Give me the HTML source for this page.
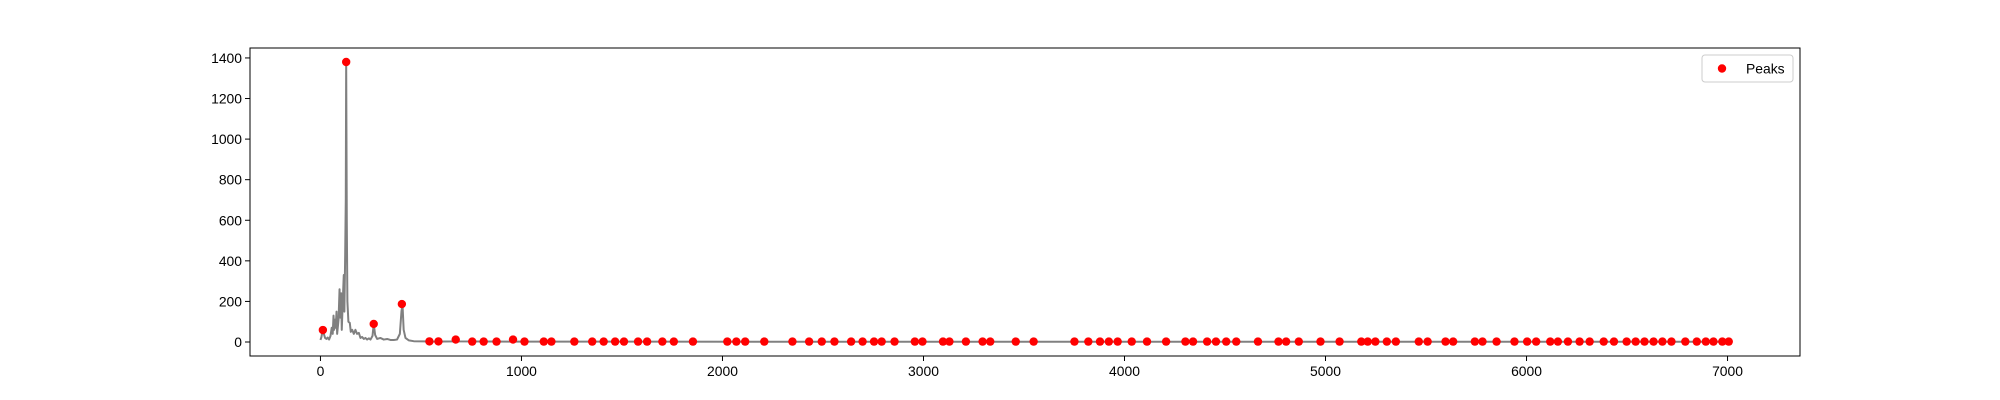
<!DOCTYPE html>
<html><head><meta charset="utf-8"><style>
html,body{margin:0;padding:0;background:#fff;}
svg{display:block;font-family:"Liberation Sans","DejaVu Sans",sans-serif;}
</style></head><body>
<svg id="chart" width="2000" height="400" xmlns="http://www.w3.org/2000/svg">
<rect width="2000" height="400" fill="#fff"/>
<g id="plot"></g>
<g id="axes"></g>
<g>
<rect x="1702" y="55" width="91" height="27" rx="3" fill="#fff" fill-opacity="0.8" stroke="#ccc" stroke-width="1"/>
<circle cx="1722" cy="68.5" r="4.2" fill="#ff0000"/>
<text x="1746" y="73.5" font-size="13.9" fill="#000">Peaks</text>
</g>
</svg>
<script>
const lineX = [0,5,10,17,23,30,36,43,50,56,61,65,68,73,76,80,83,90,95,98,103,106,111,116,119,123,126,128,131,134,139,146,151,158,166,174,182,191,199,207,216,224,232,241,249,259,265,272,282,298,315,332,348,365,381,395,403,408,414,423,440,464,514,580,660,673,690,940,958,975,1500,2500,3500,4500,5500,6500,7010];
const lineY = [10,25,55,40,20,15,22,12,30,70,40,130,60,110,70,150,40,110,260,120,240,60,200,330,150,430,700,1380,600,200,100,94,50,60,40,60,40,45,20,25,15,20,12,18,12,30,89,35,15,20,12,15,10,10,12,40,150,187,60,20,8,4,3,2,3,12,3,2,12,2,2,1,1,1,1,1,1];
const peakX = [12,128,265,405,542,587,673,755,812,876,958,1015,1111,1149,1263,1352,1409,1466,1510,1580,1625,1701,1758,1853,2024,2069,2113,2208,2348,2431,2494,2557,2640,2697,2754,2792,2856,2957,2995,3097,3129,3211,3294,3332,3459,3548,3751,3820,3878,3922,3966,4036,4112,4207,4303,4341,4411,4455,4506,4556,4664,4766,4804,4867,4975,5070,5178,5210,5248,5305,5350,5464,5508,5597,5635,5743,5781,5851,5940,6003,6048,6118,6156,6206,6264,6314,6384,6435,6498,6543,6587,6632,6676,6721,6790,6847,6892,6930,6974,7006];
const peakY = [59,1380,89,187,3,3,12,2,2,2,12,2,2,2,2,2,2,2,2,2,2,2,2,2,2,2,2,2,2,2,2,2,2,2,2,2,2,2,2,2,2,2,2,2,2,2,2,2,2,2,2,2,2,2,2,2,2,2,2,2,2,2,2,2,2,2,2,2,2,2,2,2,2,2,2,2,2,2,2,2,2,2,2,2,2,2,2,2,2,2,2,2,2,2,2,2,2,2,2,2];
const xTicks = [0,1000,2000,3000,4000,5000,6000,7000];
const yTicks = [0,200,400,600,800,1000,1200,1400];

const NS="http://www.w3.org/2000/svg";
const L=250,R=1800,T=48,B=356;
const xMin=-350.5,xMax=7360.5,yMin=-69,yMax=1449;
function sx(v){return L+(v-xMin)/(xMax-xMin)*(R-L);}
function sy(v){return B-(v-yMin)/(yMax-yMin)*(B-T);}
function mk(tag,attrs,parent){const e=document.createElementNS(NS,tag);for(const k in attrs)e.setAttribute(k,attrs[k]);parent.appendChild(e);return e;}
const plot=document.getElementById('plot');
const axes=document.getElementById('axes');

let d='';
for(let i=0;i<lineX.length;i++){d+=(i?'L':'M')+sx(lineX[i]).toFixed(2)+','+sy(lineY[i]).toFixed(2);}
const path=mk('path',{d:d,fill:'none',stroke:'#808080','stroke-width':2,'stroke-linejoin':'round'},plot);



for(let i=0;i<peakX.length;i++){
  const c=mk('circle',{cx:sx(peakX[i]),cy:sy(peakY[i]),r:4.2,fill:'#ff0000'},plot);
  
  
}

const frame=mk('rect',{x:L,y:T,width:R-L,height:B-T,fill:'none',stroke:'#000','stroke-width':1},axes);



xTicks.forEach(v=>{
  const x=sx(v);
  const t=mk('line',{x1:x,x2:x,y1:B,y2:B+5,stroke:'#000','stroke-width':1},axes);
  
  
  const lb=mk('text',{x:x,y:B+20,'text-anchor':'middle','font-size':13.9,fill:'#000'},axes);
  lb.textContent=String(v);
  
  
});
yTicks.forEach(v=>{
  const y=sy(v);
  const t=mk('line',{x1:L-5,x2:L,y1:y,y2:y,stroke:'#000','stroke-width':1},axes);
  
  
  const lb=mk('text',{x:L-8,y:y+5,'text-anchor':'end','font-size':13.9,fill:'#000'},axes);
  lb.textContent=String(v);
  
  
});
</script>
</body></html>
